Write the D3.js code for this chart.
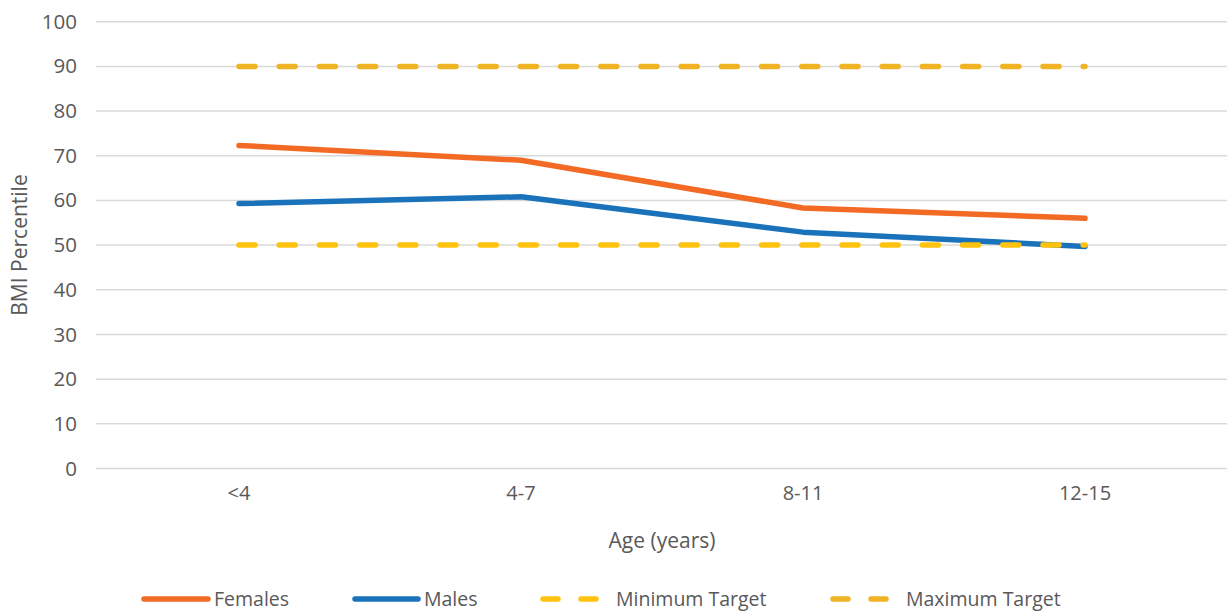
<!DOCTYPE html>
<html>
<head>
<meta charset="utf-8">
<script src="https://cdn.jsdelivr.net/npm/d3@7"></script>
<style>
  html, body { margin: 0; padding: 0; background: #ffffff; }
  svg text { font-family: "Open Sans", "Lato", sans-serif; fill: #595959; }
</style>
</head>
<body>
<svg id="chart" width="1227" height="613"></svg>
<script>
// Age groups on the x axis
const categories = ["<4", "4-7", "8-11", "12-15"];
// Mean BMI percentile per age group
const females = [72.3, 69.0, 58.3, 56.0];
const males = [59.3, 60.8, 52.9, 49.7];
// Healthy-range targets
const minimumTarget = [50, 50, 50, 50];
const maximumTarget = [90, 90, 90, 90];
const yTicks = [0, 10, 20, 30, 40, 50, 60, 70, 80, 90, 100];

const series = [
  { name: "Females", values: females, color: "#F26A24", dash: null },
  { name: "Males", values: males, color: "#1A72BB", dash: null },
  { name: "Minimum Target", values: minimumTarget, color: "#FFC20E", dash: "16,24.2" },
  { name: "Maximum Target", values: maximumTarget, color: "#F0B323", dash: "16,24.2" }
];

const FONT = "'Open Sans', Lato, sans-serif";
const svg = d3.select("#chart");
const x = d3.scaleBand().domain(categories).range([98, 1226]);
const y = d3.scaleLinear().domain([0, 100]).range([468.5, 21.7]);
const cx = d => x(d) + x.bandwidth() / 2;

// Horizontal gridlines
svg.append("g")
  .selectAll("line")
  .data(yTicks)
  .join("line")
  .attr("x1", 96).attr("x2", 1227)
  .attr("y1", d => y(d)).attr("y2", d => y(d))
  .attr("stroke", "#D9D9D9").attr("stroke-width", 1.5);

// Y axis tick labels
const yAxis = svg.append("g")
  .attr("transform", "translate(77,0)")
  .call(d3.axisLeft(y).tickValues(yTicks).tickSize(0).tickPadding(0));
yAxis.select(".domain").remove();
yAxis.selectAll("text")
  .attr("font-size", 20.5).attr("fill", "#595959")
  .style("font-family", FONT);

// X axis tick labels
const xAxis = svg.append("g")
  .attr("transform", "translate(0,486)")
  .call(d3.axisBottom(x).tickSize(0).tickPadding(0));
xAxis.select(".domain").remove();
xAxis.selectAll("text")
  .attr("font-size", 20).attr("fill", "#595959")
  .style("font-family", FONT);

// Axis titles
svg.append("text")
  .attr("x", 662).attr("y", 548)
  .attr("text-anchor", "middle")
  .attr("font-size", 21)
  .text("Age (years)");

svg.append("text")
  .attr("transform", "translate(27,245) rotate(-90)")
  .attr("text-anchor", "middle")
  .attr("font-size", 21)
  .text("BMI Percentile");

// Series lines; the dashed targets are drawn over the data lines
const line = d3.line()
  .x((d, i) => cx(categories[i]))
  .y(d => y(d));

svg.append("g")
  .selectAll("path")
  .data(series)
  .join("path")
  .attr("d", s => line(s.values))
  .attr("fill", "none")
  .attr("stroke", s => s.color)
  .attr("stroke-width", 5.5)
  .attr("stroke-linecap", "round")
  .attr("stroke-linejoin", "round")
  .attr("stroke-dasharray", s => s.dash);

// Legend
const legendItems = [
  { s: series[0], x1: 144, x2: 208, tx: 214 },
  { s: series[1], x1: 355, x2: 418, tx: 424 },
  { s: series[2], x1: 543, x2: 596, tx: 616 },
  { s: series[3], x1: 833, x2: 887, tx: 906 }
];
const legendY = 599;
const lg = svg.append("g");
legendItems.forEach(it => {
  lg.append("line")
    .attr("x1", it.x1).attr("x2", it.x2)
    .attr("y1", legendY).attr("y2", legendY)
    .attr("stroke", it.s.color)
    .attr("stroke-width", 5.5)
    .attr("stroke-linecap", "round")
    .attr("stroke-dasharray", it.s.dash ? "15,23" : null);
  lg.append("text")
    .attr("x", it.tx).attr("y", legendY + 7)
    .attr("font-size", 19.5)
    .text(it.s.name);
});
</script>
</body>
</html>
